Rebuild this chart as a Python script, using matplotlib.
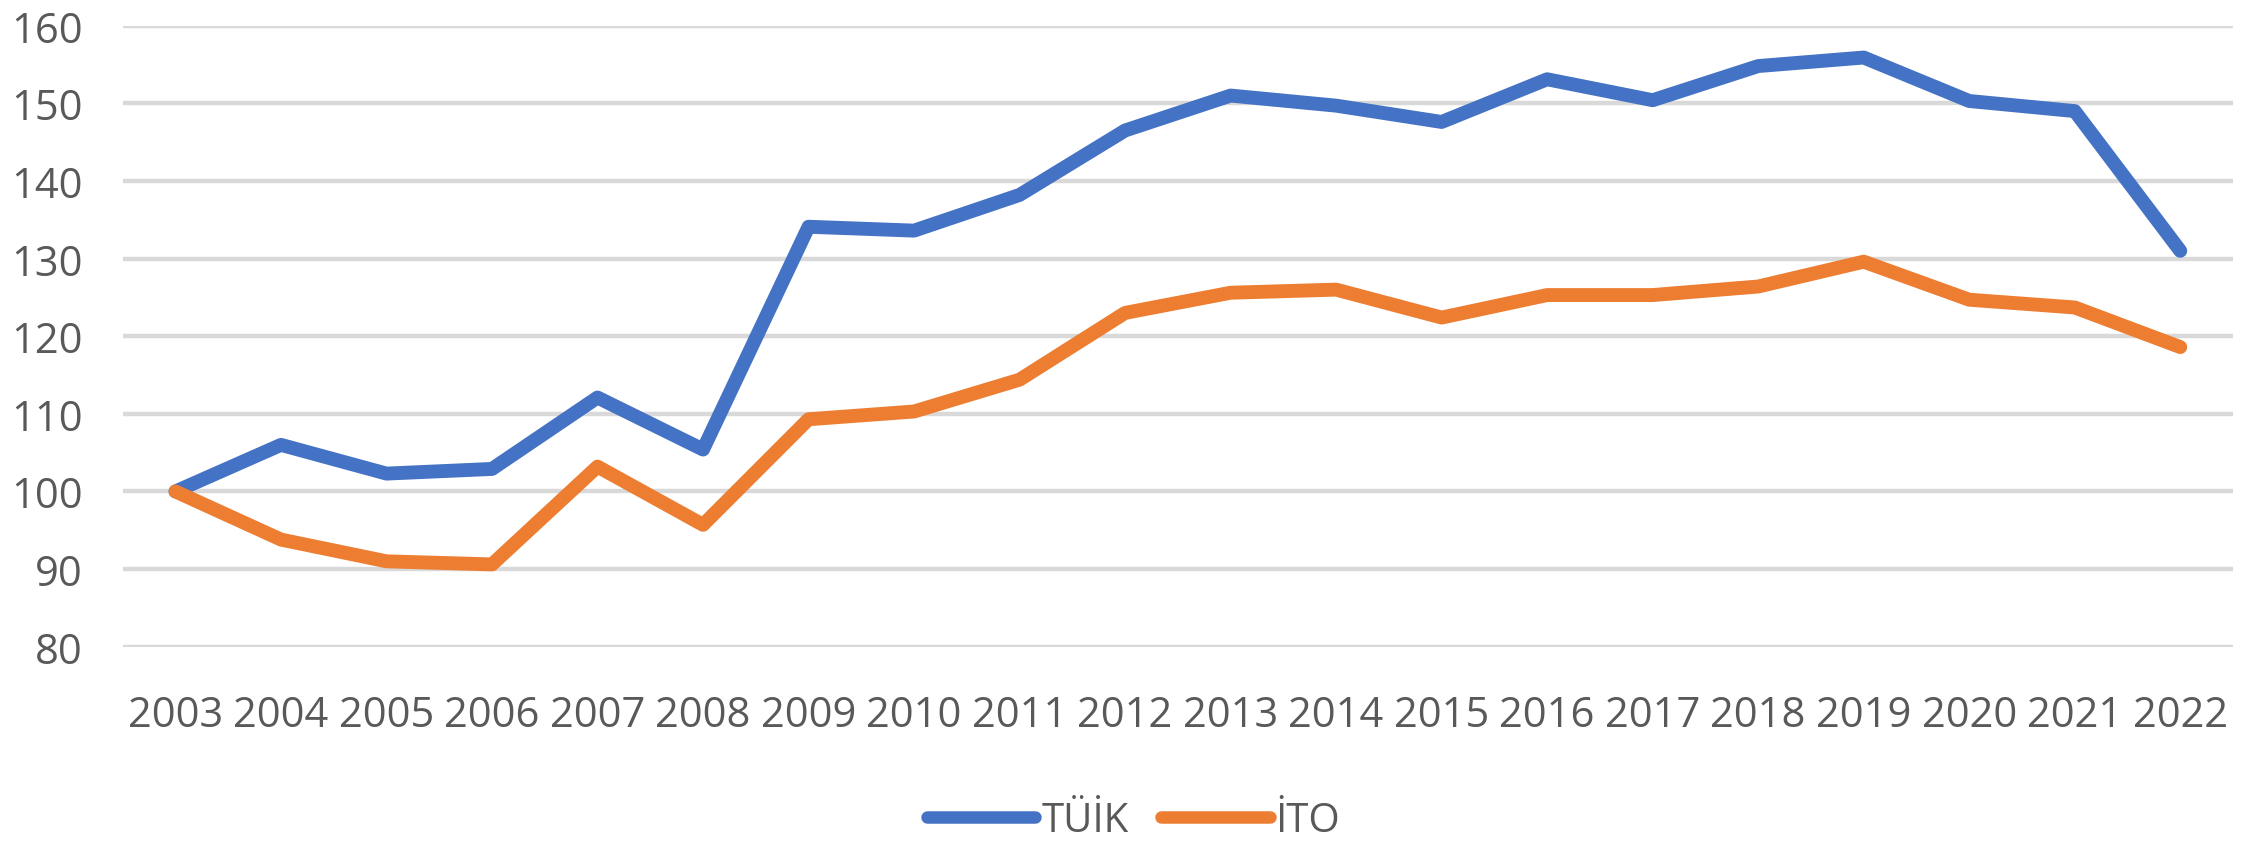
import numpy as np
import matplotlib
matplotlib.use("Agg")
import matplotlib.pyplot as plt
from matplotlib.lines import Line2D

# data
years = [str(y) for y in range(2003, 2023)]
tuik = [100.0, 106.0, 102.3, 102.9, 112.1, 105.4, 134.1, 133.6, 138.2, 146.5,
        151.0, 149.7, 147.6, 153.1, 150.4, 154.8, 155.9, 150.3, 149.0, 131.0]
ito = [100.0, 93.8, 91.0, 90.6, 103.2, 95.7, 109.3, 110.3, 114.4, 123.0,
       125.6, 126.0, 122.4, 125.3, 125.3, 126.4, 129.6, 124.7, 123.7, 118.6]
yticks = [80, 90, 100, 110, 120, 130, 140, 150, 160]

plt.rcParams['font.family'] = ['Open Sans', 'DejaVu Sans']

W, H = 2267, 845
fig = plt.figure(figsize=(W / 100, H / 100), dpi=100)
# axes box in pixels: left 122.7, right 2233, top 26.7, bottom 647.7
ax = fig.add_axes([122.7 / W, 1 - 647.7 / H, (2233 - 122.7) / W, (647.7 - 26.7) / H])

x = np.arange(len(years))
ax.plot(x, tuik, color='#4472C4', lw=10, solid_capstyle='round', solid_joinstyle='round', zorder=3)
ax.plot(x, ito, color='#ED7D31', lw=10, solid_capstyle='round', solid_joinstyle='round', zorder=3)

ax.set_ylim(80, 160)
ax.set_xlim(-0.5, 19.5)
ax.set_yticks(yticks)
ax.set_xticks(x)
ax.set_xticklabels(years)
ax.grid(axis='y', color='#d9d9d9', lw=3.2, zorder=0)
ax.set_axisbelow(True)
for s in ax.spines.values():
    s.set_visible(False)
ax.tick_params(axis='both', length=0, labelsize=30, labelcolor='#595959')
ax.tick_params(axis='x', pad=34)
ax.tick_params(axis='y', pad=29)

handles = [Line2D([], [], color='#4472C4', lw=9, solid_capstyle='round'),
           Line2D([], [], color='#ED7D31', lw=9, solid_capstyle='round')]
fig.legend(handles, ['TÜİK', 'İTO'], loc='center', bbox_to_anchor=(0.5, 1 - 822 / H),
           ncol=2, frameon=False, fontsize=29, labelcolor='#595959',
           handlelength=2.7, handletextpad=0.15, columnspacing=0.8, borderpad=0)

fig.savefig('out.png', dpi=100, facecolor='white')
